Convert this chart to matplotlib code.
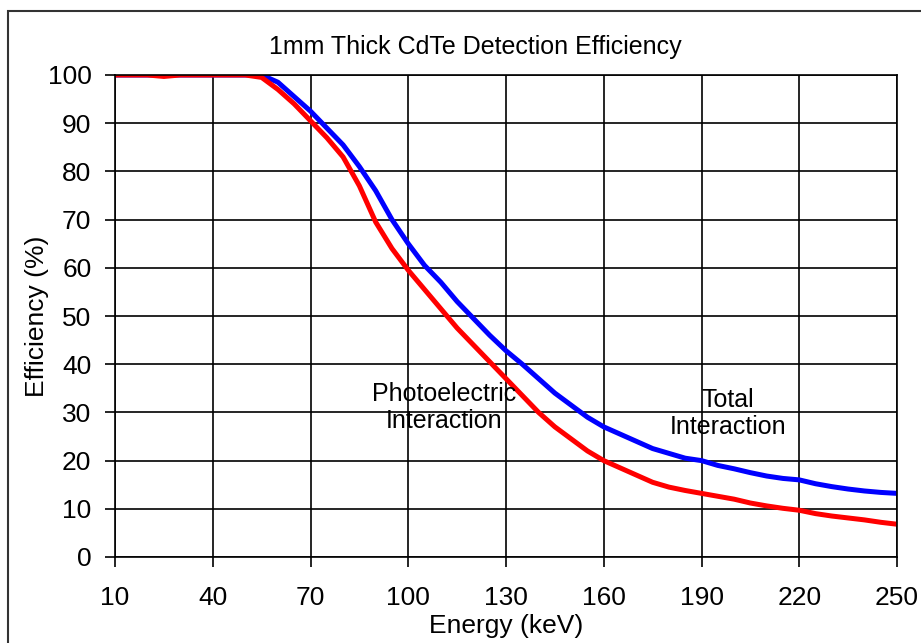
import matplotlib.pyplot as plt
from matplotlib.patches import Rectangle

plt.rcParams['font.family'] = ['Liberation Sans', 'DejaVu Sans']

# energy (keV) sampled every 5 keV
energy = [10, 15, 20, 25, 30, 35, 40, 45, 50, 55, 60, 65, 70, 75, 80, 85, 90, 95,
          100, 105, 110, 115, 120, 125, 130, 135, 140, 145, 150, 155, 160, 165,
          170, 175, 180, 185, 190, 195, 200, 205, 210, 215, 220, 225, 230, 235,
          240, 245, 250]

# total interaction efficiency (%)
total = [100, 100, 100, 100, 100, 100, 100, 100, 100, 100, 98.5, 95.5, 92.5, 89,
         85.5, 81, 76, 70, 65, 60.5, 57, 53, 49.5, 46, 42.8, 40, 37, 34,
         31.5, 29, 27, 25.5, 24, 22.5, 21.5, 20.5, 20, 19, 18.3, 17.5, 16.8, 16.3,
         16, 15.2, 14.6, 14.1, 13.7, 13.4, 13.2]

# photoelectric interaction efficiency (%)
photo = [100, 100, 100, 99.7, 100, 100, 100, 100, 100, 99.5, 97, 94, 90.5, 87,
         83, 77, 69.5, 64, 59.5, 55.5, 51.5, 47.5, 44, 40.5, 37, 33.5, 30, 27,
         24.5, 22, 20, 18.5, 17, 15.5, 14.5, 13.8, 13.2, 12.6, 12, 11.2, 10.6,
         10.1, 9.7, 9, 8.5, 8.1, 7.7, 7.2, 6.8]

xticks = [10, 40, 70, 100, 130, 160, 190, 220, 250]
yticks = list(range(0, 101, 10))

fig = plt.figure(figsize=(9.21, 6.43), dpi=100)
fig.patches.append(Rectangle((8 / 921, -0.01), 1.0, 1 - 11 / 643 + 0.01,
                             transform=fig.transFigure, fill=False,
                             edgecolor='#333333', linewidth=1.5))

ax = fig.add_axes([115 / 921, 1 - 557 / 643, (897 - 115) / 921, (557 - 75) / 643])

ax.plot(energy, total, color='#0000ff', linewidth=3.6, solid_capstyle='butt')
ax.plot(energy, photo, color='#ff0000', linewidth=3.6, solid_capstyle='butt')

ax.set_xlim(10, 250)
ax.set_ylim(0, 100)
ax.set_xticks(xticks)
ax.set_yticks(yticks)
ax.grid(True, color='black', linewidth=1.2)
ax.set_axisbelow(True)
ax.tick_params(labelsize=19, length=7, width=1.2, color='black')
ax.tick_params(axis='y', pad=10)
ax.tick_params(axis='x', pad=14)
for s in ax.spines.values():
    s.set_linewidth(1.2)

fig.text(475 / 921, 1 - 47 / 643, '1mm Thick CdTe Detection Efficiency',
         fontsize=18, ha='center', va='center')
ax.set_xlabel('Energy (keV)', fontsize=19, labelpad=3)
ax.set_ylabel('Efficiency (%)', fontsize=19, labelpad=-1)

ax.text(111, 31, 'Photoelectric\nInteraction', fontsize=18, ha='center',
        va='center', linespacing=1.15)
ax.text(198, 29.7, 'Total\nInteraction', fontsize=18, ha='center',
        va='center', linespacing=1.15)

fig.savefig('out.png', dpi=100)
